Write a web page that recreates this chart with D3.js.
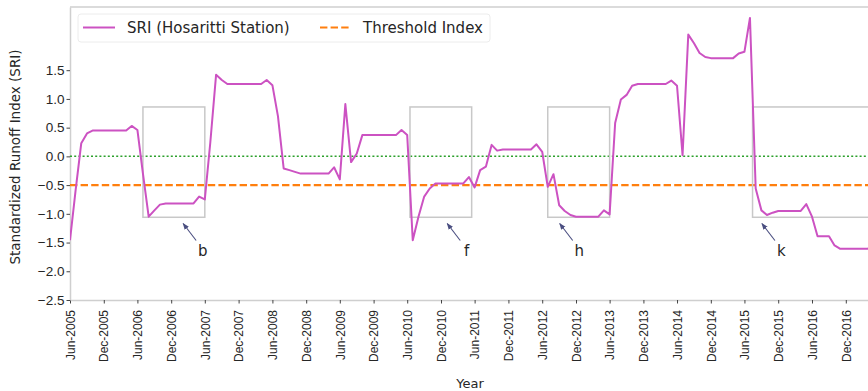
<!DOCTYPE html>
<html>
<head>
<meta charset="utf-8">
<script src="https://cdn.jsdelivr.net/npm/d3@7"></script>
<style>
  body { margin: 0; background: #fff; }
  svg { display: block; font-family: "DejaVu Sans", sans-serif; }
</style>
</head>
<body>
<div id="chart"></div>
<script>
// monthly SRI values starting Jun-2005
const startMonth = "2005-06";
const sriValues = [
  -1.46, -0.60, 0.23, 0.40, 0.45, 0.45, 0.45, 0.45, 0.45, 0.45, 0.45, 0.53,
  0.46, -0.30, -1.05, -0.94, -0.84, -0.82, -0.82, -0.82, -0.82, -0.82, -0.82, -0.70,
  -0.75, 0.25, 1.42, 1.33, 1.26, 1.26, 1.26, 1.26, 1.26, 1.26, 1.26, 1.33,
  1.24, 0.70, -0.21, -0.24, -0.27, -0.30, -0.30, -0.30, -0.30, -0.30, -0.30, -0.19,
  -0.40, 0.91, -0.10, 0.05, 0.37, 0.37, 0.37, 0.37, 0.37, 0.37, 0.37, 0.46,
  0.37, -1.46, -1.05, -0.70, -0.56, -0.47, -0.47, -0.47, -0.47, -0.47, -0.47, -0.36,
  -0.54, -0.24, -0.18, 0.20, 0.10, 0.12, 0.12, 0.12, 0.12, 0.12, 0.12, 0.21,
  0.08, -0.53, -0.31, -0.85, -0.95, -1.02, -1.05, -1.05, -1.05, -1.05, -1.05, -0.94,
  -1.01, 0.58, 0.99, 1.07, 1.23, 1.26, 1.26, 1.26, 1.26, 1.26, 1.26, 1.32,
  1.23, 0.02, 2.12, 1.97, 1.80, 1.73, 1.71, 1.71, 1.71, 1.71, 1.71, 1.79,
  1.82, 2.41, -0.56, -0.94, -1.02, -0.98, -0.95, -0.95, -0.95, -0.95, -0.95, -0.83,
  -1.05, -1.39, -1.39, -1.39, -1.55, -1.61, -1.61, -1.61, -1.61, -1.61, -1.61, -1.45
];
const thresholdValue = -0.5;
const zeroValue = 0;

const xTickLabels = [
  "Jun-2005", "Dec-2005", "Jun-2006", "Dec-2006", "Jun-2007", "Dec-2007",
  "Jun-2008", "Dec-2008", "Jun-2009", "Dec-2009", "Jun-2010", "Dec-2010",
  "Jun-2011", "Dec-2011", "Jun-2012", "Dec-2012", "Jun-2013", "Dec-2013",
  "Jun-2014", "Dec-2014", "Jun-2015", "Dec-2015", "Jun-2016", "Dec-2016"
];
const yTickValues = [-2.5, -2.0, -1.5, -1.0, -0.5, 0.0, 0.5, 1.0, 1.5];
const yDomain = [-2.5, 2.6];
const xDomainEnd = "2017-04-11";

// drought windows
const boxLabels = ["b", "f", "h", "k"];
const boxStarts = ["2006-07-01", "2010-06-16", "2012-07-01", "2015-07-15"];
const boxEnds = ["2007-06-01", "2011-05-16", "2013-06-01", "2017-08-01"];
const boxTop = 0.86;
const boxBottom = -1.06;
const arrowDates = ["2007-02-01", "2011-01-01", "2012-09-01", "2015-09-01"];
const arrowValue = -1.16;

const legendLabels = ["SRI (Hosaritti Station)", "Threshold Index"];

const width = 868;
const height = 391;
const margin = { top: 7, right: -2, bottom: 91, left: 70 };
const innerW = width - margin.left - margin.right;
const innerH = height - margin.top - margin.bottom;

const sriColor = "#cc52c2";
const thresholdColor = "#ff7f0e";
const zeroColor = "#2ca02c";
const spineColor = "#cfcfcf";
const textColor = "#262626";

const parseMonth = d3.timeParse("%Y-%m");
const parseDay = d3.timeParse("%Y-%m-%d");
const parseTick = d3.timeParse("%b-%Y");
const start = parseMonth(startMonth);
const data = sriValues.map((v, i) => ({ date: d3.timeMonth.offset(start, i), value: v }));

const svg = d3.select("#chart")
  .append("svg")
  .attr("width", width)
  .attr("height", height);

const x = d3.scaleTime()
  .domain([start, parseDay(xDomainEnd)])
  .range([0, innerW]);
const y = d3.scaleLinear()
  .domain(yDomain)
  .range([innerH, 0]);

const defs = svg.append("defs");
defs.append("clipPath").attr("id", "clip")
  .append("rect")
  .attr("width", innerW)
  .attr("height", innerH);
defs.append("marker")
  .attr("id", "arrowhead")
  .attr("viewBox", "0 0 10 10")
  .attr("refX", 9)
  .attr("refY", 5)
  .attr("markerWidth", 6)
  .attr("markerHeight", 6)
  .attr("orient", "auto-start-reverse")
  .append("path")
  .attr("d", "M0,1 L10,5 L0,9 z")
  .attr("fill", "#4a4e80");

const chartArea = svg.append("g")
  .attr("transform", `translate(${margin.left},${margin.top})`);

// axes
const xAxis = d3.axisBottom(x)
  .tickValues(xTickLabels.map(parseTick))
  .tickFormat(d3.timeFormat("%b-%Y"))
  .tickSize(3.5)
  .tickSizeOuter(0);
const xAxisGroup = chartArea.append("g")
  .attr("transform", `translate(0,${innerH})`)
  .call(xAxis);
xAxisGroup.selectAll("text")
  .attr("transform", "rotate(-90)")
  .attr("text-anchor", "end")
  .attr("x", -10)
  .attr("y", 0)
  .attr("dy", "0.35em")
  .style("font-size", "12px")
  .attr("fill", textColor);

const yAxis = d3.axisLeft(y)
  .tickValues(yTickValues)
  .tickFormat(d3.format(".1f"))
  .tickSize(3.5)
  .tickPadding(2)
  .tickSizeOuter(0);
const yAxisGroup = chartArea.append("g").call(yAxis);
yAxisGroup.selectAll("text")
  .style("font-size", "13.5px")
  .attr("fill", textColor);

[xAxisGroup, yAxisGroup].forEach(a => {
  a.select(".domain").attr("stroke", spineColor).attr("stroke-width", 1.5);
  a.selectAll(".tick line").attr("stroke", "#444").attr("stroke-width", 1);
});

// top and right spines
chartArea.append("line")
  .attr("x1", 0).attr("x2", innerW).attr("y1", 0).attr("y2", 0)
  .attr("stroke", spineColor).attr("stroke-width", 1.5);
chartArea.append("line")
  .attr("x1", innerW).attr("x2", innerW).attr("y1", 0).attr("y2", innerH)
  .attr("stroke", spineColor).attr("stroke-width", 1.5);

const plot = chartArea.append("g").attr("clip-path", "url(#clip)");

// reference lines
plot.append("line")
  .attr("x1", 0).attr("x2", innerW)
  .attr("y1", y(zeroValue)).attr("y2", y(zeroValue))
  .attr("stroke", zeroColor)
  .attr("stroke-width", 1.5)
  .attr("stroke-dasharray", "2,2.2");
plot.append("line")
  .attr("x1", 0).attr("x2", innerW)
  .attr("y1", y(thresholdValue)).attr("y2", y(thresholdValue))
  .attr("stroke", thresholdColor)
  .attr("stroke-width", 2.2)
  .attr("stroke-dasharray", "7.4,3.2");

// drought boxes
plot.selectAll("rect.box")
  .data(boxLabels)
  .enter()
  .append("rect")
  .attr("class", "box")
  .attr("x", (d, i) => x(parseDay(boxStarts[i])))
  .attr("y", y(boxTop))
  .attr("width", (d, i) => x(parseDay(boxEnds[i])) - x(parseDay(boxStarts[i])))
  .attr("height", y(boxBottom) - y(boxTop))
  .attr("fill", "none")
  .attr("stroke", "#c8c8c8")
  .attr("stroke-width", 1.5);

// SRI line
plot.append("path")
  .datum(data)
  .attr("fill", "none")
  .attr("stroke", sriColor)
  .attr("stroke-width", 2)
  .attr("stroke-linejoin", "round")
  .attr("d", d3.line()
    .x(d => x(d.date))
    .y(d => y(d.value))
  );

// annotations
const annots = chartArea.selectAll("g.annot")
  .data(boxLabels)
  .enter()
  .append("g")
  .attr("class", "annot")
  .attr("transform", (d, i) => `translate(${x(parseDay(arrowDates[i]))},${y(arrowValue)})`);
annots.append("line")
  .attr("x1", 13.5).attr("y1", 17.5)
  .attr("x2", 0.5).attr("y2", 0.5)
  .attr("stroke", "#4a4e80")
  .attr("stroke-width", 1.1)
  .attr("marker-end", "url(#arrowhead)");
annots.append("text")
  .attr("x", 20)
  .attr("y", 32.5)
  .attr("text-anchor", "middle")
  .style("font-size", "15px")
  .attr("fill", textColor)
  .text(d => d);

// axis titles
svg.append("text")
  .attr("x", margin.left + innerW / 2)
  .attr("y", 388)
  .attr("text-anchor", "middle")
  .style("font-size", "13px")
  .attr("fill", textColor)
  .text("Year");
svg.append("text")
  .attr("transform", "translate(20,157) rotate(-90)")
  .attr("text-anchor", "middle")
  .style("font-size", "13.5px")
  .attr("fill", textColor)
  .text("Standardized Runoff Index (SRI)");

// legend
const legend = chartArea.append("g").attr("transform", "translate(8,7)");
legend.append("rect")
  .attr("width", 412)
  .attr("height", 28)
  .attr("rx", 3)
  .attr("fill", "#fff")
  .attr("fill-opacity", 0.8)
  .attr("stroke", "#ececec");
legend.append("line")
  .attr("x1", 5).attr("x2", 37).attr("y1", 13.5).attr("y2", 13.5)
  .attr("stroke", sriColor).attr("stroke-width", 2);
legend.append("text")
  .attr("x", 49).attr("y", 13.5).attr("dy", "0.35em")
  .style("font-size", "15px").attr("fill", textColor)
  .text(legendLabels[0]);
legend.append("line")
  .attr("x1", 242).attr("x2", 273).attr("y1", 13.5).attr("y2", 13.5)
  .attr("stroke", thresholdColor).attr("stroke-width", 2.2)
  .attr("stroke-dasharray", "7.4,3.2");
legend.append("text")
  .attr("x", 285).attr("y", 13.5).attr("dy", "0.35em")
  .style("font-size", "15px").attr("fill", textColor)
  .text(legendLabels[1]);
</script>
</body>
</html>
